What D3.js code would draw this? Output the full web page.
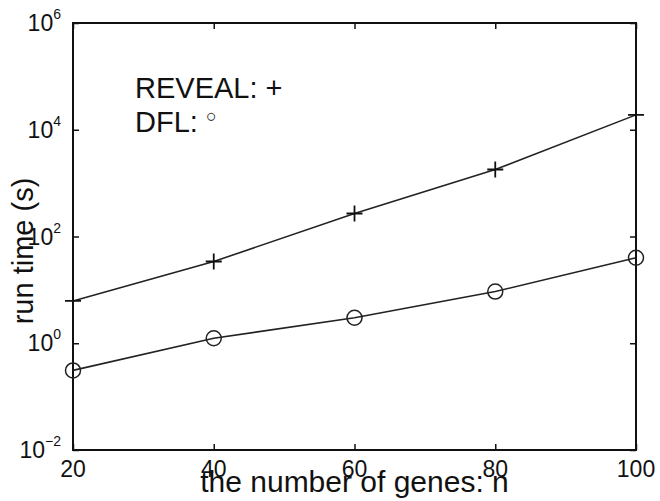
<!DOCTYPE html>
<html>
<head>
<meta charset="utf-8">
<script src="https://cdn.jsdelivr.net/npm/d3@7"></script>
<style>
  body { margin: 0; background: #fff; }
  text { font-family: Arial, "Liberation Sans", sans-serif; fill: #111; }
</style>
</head>
<body>
<div id="chart"></div>
<script>
// data
const genes = [20, 40, 60, 80, 100];
const reveal = [6.2, 34, 270, 1800, 19000];
const dfl = [0.31, 1.24, 3.0, 9.3, 40];
const xTicks = [20, 40, 60, 80, 100];
const yExps = [-2, 0, 2, 4, 6];

const width = 660, height = 501;
const plotL = 73, plotR = 636, plotT = 23, plotB = 450;

const svg = d3.select("#chart")
  .append("svg")
  .attr("width", width)
  .attr("height", height);

const x = d3.scaleLinear().domain([20, 100]).range([plotL, plotR]);
const y = d3.scaleLog().domain([1e-2, 1e6]).range([plotB, plotT]);

const tickLen = 6;

// axes, ticks pointing inside
const axisStyle = g => {
  g.select(".domain").remove();
  g.selectAll(".tick line").attr("stroke", "#111").attr("stroke-width", 1.5);
  g.selectAll(".tick text").remove();
};

svg.append("g")
  .attr("transform", `translate(0,${plotB})`)
  .call(d3.axisBottom(x).tickValues(xTicks).tickSize(-tickLen))
  .call(axisStyle);
svg.append("g")
  .attr("transform", `translate(0,${plotT})`)
  .call(d3.axisTop(x).tickValues(xTicks).tickSize(-tickLen))
  .call(axisStyle);
svg.append("g")
  .attr("transform", `translate(${plotL},0)`)
  .call(d3.axisLeft(y).tickValues(yExps.map(e => Math.pow(10, e))).tickSize(-tickLen))
  .call(axisStyle);
svg.append("g")
  .attr("transform", `translate(${plotR},0)`)
  .call(d3.axisRight(y).tickValues(yExps.map(e => Math.pow(10, e))).tickSize(-tickLen))
  .call(axisStyle);

// box
svg.append("rect")
  .attr("x", plotL).attr("y", plotT)
  .attr("width", plotR - plotL).attr("height", plotB - plotT)
  .attr("fill", "none")
  .attr("stroke", "#111")
  .attr("stroke-width", 2);

// x tick labels
svg.selectAll("text.xt")
  .data(xTicks)
  .join("text")
  .attr("class", "xt")
  .attr("x", d => x(d))
  .attr("y", 477)
  .attr("text-anchor", "middle")
  .style("font-size", "23px")
  .text(d => d);

// y tick labels 10^e
const yt = svg.selectAll("text.yt")
  .data(yExps)
  .join("text")
  .attr("class", "yt")
  .attr("x", 61)
  .attr("y", d => y(Math.pow(10, d)) + 8)
  .attr("text-anchor", "end")
  .style("font-size", "23px");
yt.append("tspan").text("10");
yt.append("tspan")
  .attr("dy", -12)
  .style("font-size", "14px")
  .text(d => d < 0 ? "\u2212" + Math.abs(d) : d);

// lines
const line = d3.line().x((d, i) => x(genes[i])).y(d => y(d));

svg.append("path")
  .datum(reveal)
  .attr("d", line)
  .attr("fill", "none")
  .attr("stroke", "#222")
  .attr("stroke-width", 1.6);

svg.append("path")
  .datum(dfl)
  .attr("d", line)
  .attr("fill", "none")
  .attr("stroke", "#222")
  .attr("stroke-width", 1.6);

// markers
const s = 8;
svg.selectAll("path.plus")
  .data(reveal)
  .join("path")
  .attr("class", "plus")
  .attr("d", (d, i) => {
    const cx = x(genes[i]), cy = y(d);
    return `M${cx - s},${cy}H${cx + s}M${cx},${cy - s}V${cy + s}`;
  })
  .attr("stroke", "#111")
  .attr("stroke-width", 1.8);

svg.selectAll("circle.dfl")
  .data(dfl)
  .join("circle")
  .attr("class", "dfl")
  .attr("cx", (d, i) => x(genes[i]))
  .attr("cy", d => y(d))
  .attr("r", 7.5)
  .attr("fill", "none")
  .attr("stroke", "#222")
  .attr("stroke-width", 1.5);

// legend text
svg.append("text")
  .attr("x", 135)
  .attr("y", 98)
  .style("font-size", "29px")
  .text("REVEAL: +");
const dt = svg.append("text")
  .attr("x", 135)
  .attr("y", 132)
  .style("font-size", "29px");
dt.append("tspan").text("DFL: ");
dt.append("tspan")
  .attr("dy", -10)
  .style("font-size", "18px")
  .text("\u25CB");

// axis titles
svg.append("text")
  .attr("x", (plotL + plotR) / 2)
  .attr("y", 492)
  .attr("text-anchor", "middle")
  .style("font-size", "30px")
  .text("the number of genes: n");

svg.append("text")
  .attr("transform", "translate(33,251) rotate(-90)")
  .attr("text-anchor", "middle")
  .style("font-size", "29px")
  .text("run time (s)");
</script>
</body>
</html>
